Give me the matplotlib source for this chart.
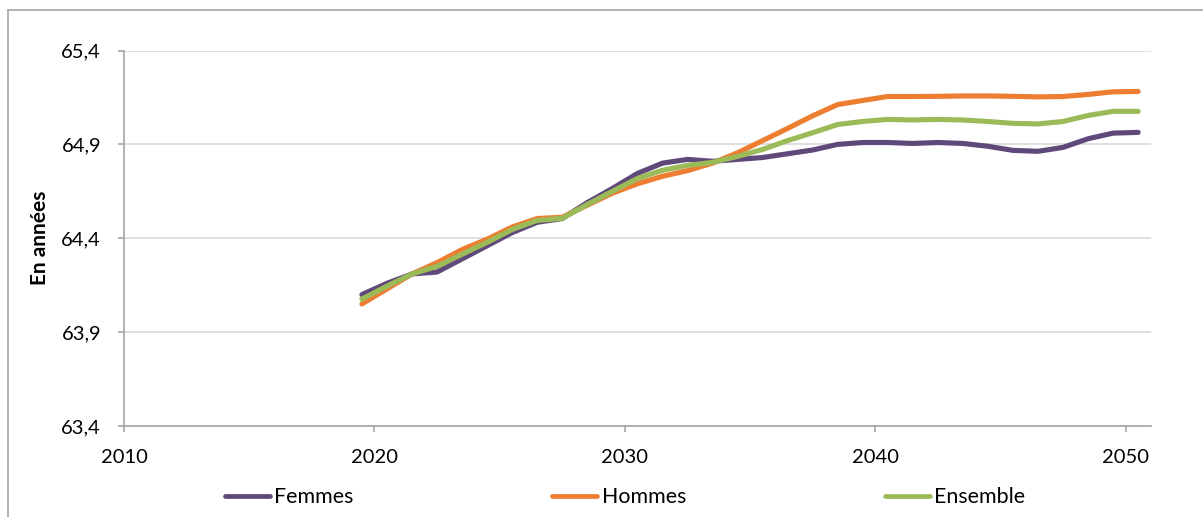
import matplotlib
matplotlib.use("Agg")
import matplotlib.pyplot as plt
import numpy as np
from matplotlib.lines import Line2D
from matplotlib.ticker import FuncFormatter

plt.rcParams['font.family'] = ['Lato', 'DejaVu Sans']

# age moyen de départ, par année de génération
years = np.arange(2019, 2051)
femmes = [64.10, 64.16, 64.21, 64.22, 64.29, 64.36, 64.43, 64.485, 64.505, 64.59,
          64.665, 64.745, 64.80, 64.82, 64.81, 64.82, 64.83, 64.85, 64.87, 64.90,
          64.91, 64.91, 64.905, 64.91, 64.905, 64.89, 64.868, 64.863, 64.884, 64.93,
          64.96, 64.964]
hommes = [64.05, 64.13, 64.21, 64.27, 64.34, 64.395, 64.46, 64.505, 64.512, 64.576,
          64.64, 64.69, 64.73, 64.76, 64.80, 64.855, 64.92, 64.985, 65.052, 65.112,
          65.134, 65.155, 65.155, 65.156, 65.158, 65.158, 65.156, 65.153, 65.155, 65.166,
          65.18, 65.182]
ensemble = [64.076, 64.145, 64.21, 64.25, 64.315, 64.378, 64.447, 64.495, 64.506, 64.58,
            64.65, 64.718, 64.762, 64.788, 64.804, 64.836, 64.873, 64.92, 64.962, 65.006,
            65.022, 65.033, 65.03, 65.033, 65.03, 65.022, 65.012, 65.009, 65.022, 65.054,
            65.076, 65.076]

series = [("Femmes", femmes, "#5f497a"),
          ("Hommes", hommes, "#ed7d31"),
          ("Ensemble", ensemble, "#9bbb59")]

x_ticks = [2010, 2020, 2030, 2040, 2050]
y_ticks = [63.4, 63.9, 64.4, 64.9, 65.4]

fig = plt.figure(figsize=(12.03, 5.17), dpi=100)
ax = fig.add_axes([0.1031, 0.176, 0.8534, 0.7263])

# points centred between the year tick marks
for name, vals, col in series:
    ax.plot(years + 0.5, vals, color=col, lw=3.7, label=name,
            solid_capstyle="round", solid_joinstyle="round")

ax.set_xlim(2010, 2051)
ax.set_ylim(63.4, 65.4)
ax.set_xticks(x_ticks)
ax.set_yticks(y_ticks)
ax.yaxis.set_major_formatter(FuncFormatter(lambda v, p: f"{v:.1f}".replace(".", ",")))
ax.grid(axis="y", color="#d9d9d9", lw=1.2)
ax.set_axisbelow(True)

for s in ["top", "right"]:
    ax.spines[s].set_visible(False)
for s in ["left", "bottom"]:
    ax.spines[s].set_color("#a6a6a6")
    ax.spines[s].set_linewidth(1.2)

ax.tick_params(axis="both", colors="#a6a6a6", labelcolor="black", labelsize=14.5,
               length=4.5, width=1.2)
ax.tick_params(axis="y", pad=12)
ax.tick_params(axis="x", pad=12)

ax.set_ylabel("En années", fontsize=15, fontweight="bold", va="center")
ax.yaxis.set_label_coords(-0.0818, 0.502)

handles = [Line2D([], [], color=c, lw=3.4, solid_capstyle="round") for _, _, c in series]
fig.legend(handles, [n for n, _, _ in series], loc="center left",
           bbox_to_anchor=(0.187, 0.0387), ncol=3, frameon=False, fontsize=15.4,
           handlelength=2.1, handletextpad=0.2, columnspacing=9.3,
           borderaxespad=0, borderpad=0)

# cadre du graphique
fig.add_artist(Line2D([8 / 1203, 8 / 1203], [0, 1 - 10 / 517], transform=fig.transFigure,
                      color="#a6a6a6", lw=1.2))
fig.add_artist(Line2D([8 / 1203, 1], [1 - 10 / 517, 1 - 10 / 517], transform=fig.transFigure,
                      color="#a6a6a6", lw=1.2))

fig.savefig("out.png", dpi=100)
